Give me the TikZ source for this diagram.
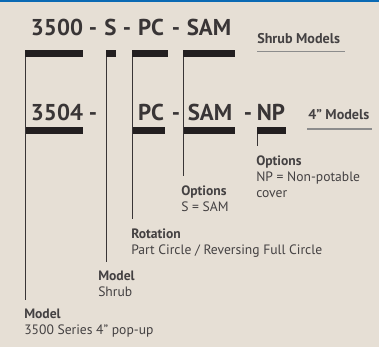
\documentclass[tikz,border=0pt]{standalone}
\usepackage{fontspec}
\setmainfont{PT Sans}
\usepackage{tikz}

\definecolor{paper}{HTML}{E6DFD5}
\definecolor{ink}{HTML}{231F20}
\definecolor{topbar}{HTML}{0A6AB4}
\definecolor{rule}{HTML}{8C8C8C}

\tikzset{
    code/.style={font=\bfseries\fontsize{17.2}{19}\selectfont, text=ink!90, inner sep=0pt, anchor=base},
    head/.style={font=\bfseries\fontsize{10.6}{12}\selectfont, text=ink!85, inner sep=0pt, anchor=base west},
    bar/.style={fill=ink, inner sep=0pt, outer sep=0pt, minimum height=5.25pt, anchor=north west},
    lbl/.style={font=\fontsize{10.2}{12}\selectfont, text=ink!85, inner sep=0pt, anchor=base west, align=left},
    lead/.style={draw=ink!90, line width=0.9pt, shorten >=6.5pt},
}

\begin{document}
\begin{tikzpicture}[x=0.75pt, y=-0.75pt]
    % page
    \fill[paper] (0,0) rectangle (379,347);
    \fill[topbar] (0,0) rectangle (379,2.3);
    \useasboundingbox (0,0) rectangle (379,347);

    % shrub models
    \node[code] (s3500) at (57,35) {3500};
    \node[code] (sd1) at (93,35) {-};
    \node[code] (sS) at (110.5,35) {S};
    \node[code] (sd2) at (127,35) {-};
    \node[code] (sPC) at (151,35) {PC};
    \node[code] (sd3) at (176,35) {-};
    \node[code] (sSAM) at (209,35) {SAM};
    \node[head] (shrub) at (257,43.3) {Shrub Models};
    \draw[rule, line width=0.8pt] (257,51.7) -- (345,51.7);

    \node[bar, minimum width=43.5pt] (b3500) at (25,50) {};
    \node[bar, minimum width=7.5pt] (bS) at (106,50) {};
    \node[bar, minimum width=27pt] (bPC) at (132,50) {};
    \node[bar, minimum width=39pt] (bSAM) at (183,50) {};

    % 4" models
    \node[code] (f3504) at (57,120.7) {3504};
    \node[code] (fd1) at (93,120.7) {-};
    \node[code] (fPC) at (151,120.7) {PC};
    \node[code] (fd2) at (176,120.7) {-};
    \node[code] (fSAM) at (210,120.7) {SAM};
    \node[code] (fd3) at (248,120.7) {-};
    \node[code] (fNP) at (271,120.7) {NP};
    \node[head] (four) at (308,119.3) {4" Models};
    \draw[rule, line width=0.8pt] (307,129) -- (372,129);

    \node[bar, minimum width=43.5pt] (b3504) at (25,127) {};
    \node[bar, minimum width=24.75pt] (bPC2) at (132,127) {};
    \node[bar, minimum width=39pt] (bSAM2) at (183,127) {};
    \node[bar, minimum width=21.75pt] (bNP) at (257,127) {};

    % labels (base = last line)
    \node[lbl] (optNP) at (256,197) {\textbf{Options}\\NP = Non-potable\\cover};
    \node[lbl] (optS) at (181,211) {\textbf{Options}\\S = SAM};
    \node[lbl] (rot) at (131,254) {\textbf{Rotation}\\Part Circle / Reversing Full Circle};
    \node[lbl] (mShrub) at (98,296.7) {\textbf{Model}\\Shrub};
    \node[lbl] (mSeries) at (24,334) {\textbf{Model}\\3500 Series 4" pop-up};

    % leader lines
    \draw[lead] ([xshift=0.45pt]b3500.south west) -- ([xshift=0.45pt]b3500.south west |- mSeries.north);
    \draw[lead] ([xshift=0.45pt]bS.south west) -- ([xshift=0.45pt]bS.south west |- mShrub.north);
    \draw[lead] ([xshift=0.45pt]bPC.south west) -- ([xshift=0.45pt]bPC.south west |- rot.north);
    \draw[lead] ([xshift=0.45pt]bSAM.south west) -- ([xshift=0.45pt]bSAM.south west |- optS.north);
    \draw[lead] ([xshift=0.45pt]bNP.south west) -- ([xshift=0.45pt]bNP.south west |- optNP.north);
\end{tikzpicture}
\end{document}
